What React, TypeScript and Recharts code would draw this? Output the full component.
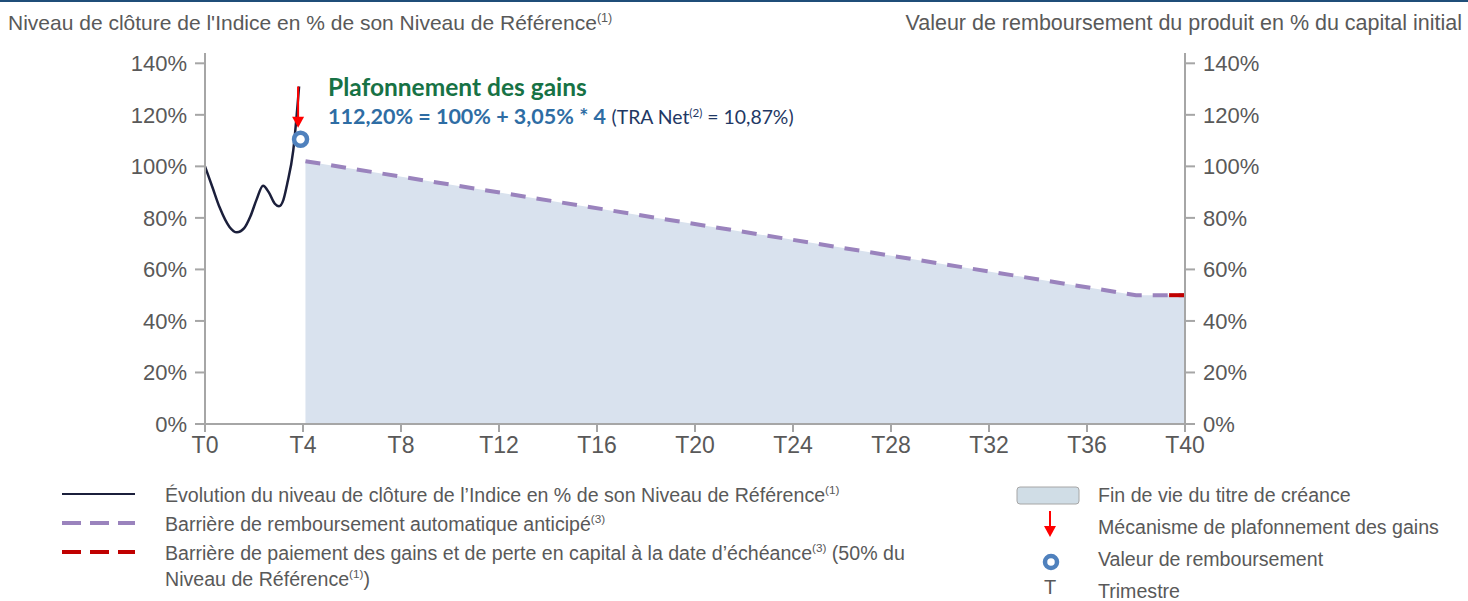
import React from "react";
import {
  ComposedChart,
  Line,
  Area,
  XAxis,
  YAxis,
  ReferenceLine,
  ReferenceDot,
} from "recharts";

// index path (quarters, % of reference level)
const indexT = [0, 0.3, 0.6, 1.0, 1.3, 1.6, 1.85, 2.1, 2.37, 2.6, 2.85, 3.02, 3.2, 3.35, 3.6, 3.84];
const indexLevel = [100, 92, 84, 76.5, 74.4, 76, 80.5, 87, 92.5, 90, 85.5, 84.5, 87, 93, 106, 131];

// autocall barrier + end of life area
const barrierT = [4.1, 38, 40];
const barrierLevel = [102, 50, 50];

// capital barrier at maturity
const capitalT = [39.35, 40];
const capitalLevel = [50, 50];

const xTicks = [0, 4, 8, 12, 16, 20, 24, 28, 32, 36, 40];
const yTicks = [0, 20, 40, 60, 80, 100, 120, 140];

// cap mechanism
const arrowT = 3.8;
const arrowFrom = 131;
const arrowTo = 115;
const redemptionT = 3.9;
const redemptionLevel = 110.5;

type Row = { t: number; index?: number; barrier?: number; capital?: number };

const buildRows = (): Row[] => {
  const m = new Map<number, Row>();
  const put = (t: number, key: "index" | "barrier" | "capital", v: number) => {
    const r = m.get(t) ?? { t };
    r[key] = v;
    m.set(t, r);
  };
  indexT.forEach((t, i) => put(t, "index", indexLevel[i]));
  barrierT.forEach((t, i) => put(t, "barrier", barrierLevel[i]));
  capitalT.forEach((t, i) => put(t, "capital", capitalLevel[i]));
  return Array.from(m.values()).sort((a, b) => a.t - b.t);
};

const rows = buildRows();

const AXIS = "#a6a6a6";
const TXT = "#595959";
const FONT = "'Liberation Sans', Arial, sans-serif";
const yTickStyle = { fill: TXT, fontSize: 22, fontFamily: FONT };
const xTickStyle = { fill: TXT, fontSize: 23, fontFamily: FONT };

const Ring = (p: any) => (
  <circle cx={p.cx} cy={p.cy} r={6.5} fill="#fff" stroke="#4f81bd" strokeWidth={4.5} />
);

const ArrowHead = (p: any) => (
  <path d={`M${p.cx - 6},${p.cy - 11} L${p.cx + 6},${p.cy - 11} L${p.cx},${p.cy} Z`} fill="#ff0000" />
);

const sup = { fontSize: "0.6em", verticalAlign: "super" as const, lineHeight: 0 };

const App = () => {
  return (
    <div style={{ position: "fixed", left: 0, top: 0, width: 1468, height: 601, background: "#fff", overflow: "hidden" }}>
      <div style={{ position: "absolute", left: 0, top: 0, width: 1468, height: 2, background: "#1f4e79" }} />
      <div style={{ position: "absolute", left: 8, top: 11, fontFamily: FONT, fontSize: 21, color: TXT, whiteSpace: "nowrap" }}>
        Niveau de clôture de l'Indice en % de son Niveau de Référence<span style={sup}>(1)</span>
      </div>
      <div style={{ position: "absolute", right: 6, top: 11, fontFamily: FONT, fontSize: 21.5, color: TXT, whiteSpace: "nowrap" }}>
        Valeur de remboursement du produit en % du capital initial
      </div>

      <div style={{ position: "absolute", left: 0, top: 0 }}>
        <ComposedChart width={1468} height={470} data={rows} margin={{ top: 53, right: 203, bottom: 6, left: 125 }}>
          <XAxis
            dataKey="t"
            type="number"
            domain={[0, 40]}
            ticks={xTicks}
            tickFormatter={(v) => `T${v}`}
            interval={0}
            height={40}
            tickSize={8}
            tickMargin={5}
            stroke={AXIS}
            strokeWidth={2}
            tick={xTickStyle}
          />
          <YAxis
            yAxisId="l"
            domain={[0, 144]}
            ticks={yTicks}
            tickFormatter={(v) => `${v}%`}
            width={80}
            tickSize={10}
            tickMargin={8}
            stroke={AXIS}
            strokeWidth={2}
            tick={yTickStyle}
            interval={0}
          />
          <YAxis
            yAxisId="r"
            orientation="right"
            domain={[0, 144]}
            ticks={yTicks}
            tickFormatter={(v) => `${v}%`}
            width={80}
            tickSize={10}
            tickMargin={8}
            stroke={AXIS}
            strokeWidth={2}
            tick={yTickStyle}
            interval={0}
          />
          <Area
            yAxisId="l"
            dataKey="barrier"
            type="linear"
            fill="#d9e2ee"
            fillOpacity={1}
            stroke="none"
            connectNulls
            isAnimationActive={false}
          />
          <Line
            yAxisId="r"
            dataKey="barrier"
            type="linear"
            stroke="none"
            dot={false}
            connectNulls
            isAnimationActive={false}
          />
          <Line
            yAxisId="l"
            dataKey="barrier"
            type="linear"
            stroke="#9a83bd"
            strokeWidth={4}
            strokeDasharray="15 11"
            dot={false}
            connectNulls
            isAnimationActive={false}
          />
          <Line
            yAxisId="l"
            dataKey="capital"
            type="linear"
            stroke="#c00000"
            strokeWidth={4}
            dot={false}
            isAnimationActive={false}
          />
          <Line
            yAxisId="l"
            dataKey="index"
            type="monotone"
            stroke="#1b1f3b"
            strokeWidth={2.5}
            dot={false}
            isAnimationActive={false}
          />
          <ReferenceLine
            yAxisId="l"
            segment={[{ x: arrowT, y: arrowFrom }, { x: arrowT, y: arrowTo + 3 }]}
            stroke="#ff0000"
            strokeWidth={2}
          />
          <ReferenceDot yAxisId="l" x={arrowT} y={arrowTo} shape={ArrowHead} />
          <ReferenceDot yAxisId="l" x={redemptionT} y={redemptionLevel} shape={Ring} />
        </ComposedChart>
      </div>

      <div style={{ position: "absolute", left: 328, top: 72, fontFamily: "Lato, sans-serif", fontWeight: 700, fontSize: 24.5, color: "#177245", whiteSpace: "nowrap" }}>
        Plafonnement des gains
      </div>
      <div style={{ position: "absolute", left: 328, top: 103, fontFamily: "Lato, sans-serif", fontSize: 21.5, color: "#2e6da4", whiteSpace: "nowrap" }}>
        <b>112,20% = 100% + 3,05% * 4</b>{" "}
        <span style={{ fontSize: 19.4, color: "#1f3864" }}>
          (TRA Net<span style={sup}>(2)</span> = 10,87%)
        </span>
      </div>

      {/* legend left */}
      <svg style={{ position: "absolute", left: 0, top: 480 }} width={160} height={90}>
        <line x1={62} y1={14} x2={135} y2={14} stroke="#1b1f3b" strokeWidth={2} />
        <line x1={62} y1={43} x2={135} y2={43} stroke="#9a83bd" strokeWidth={4} strokeDasharray="19 9" />
        <line x1={62} y1={72} x2={135} y2={72} stroke="#c00000" strokeWidth={4} strokeDasharray="19 9" />
      </svg>
      <div style={{ position: "absolute", left: 165, top: 481, fontFamily: FONT, fontSize: 19.6, color: TXT, lineHeight: "29px", whiteSpace: "nowrap" }}>
        <div>Évolution du niveau de clôture de l’Indice en % de son Niveau de Référence<span style={sup}>(1)</span></div>
        <div>Barrière de remboursement automatique anticipé<span style={sup}>(3)</span></div>
        <div style={{ lineHeight: "26px", marginTop: 1 }}>
          Barrière de paiement des gains et de perte en capital à la date d’échéance<span style={sup}>(3)</span> (50% du
          <br />
          Niveau de Référence<span style={sup}>(1)</span>)
        </div>
      </div>

      {/* legend right */}
      <svg style={{ position: "absolute", left: 1010, top: 480 }} width={80} height={100}>
        <rect x={7} y={7} width={62} height={17} rx={3} fill="#d0dde6" stroke="#a6a6a6" strokeWidth={1} />
        <line x1={40} y1={31} x2={40} y2={50} stroke="#ff0000" strokeWidth={2} />
        <path d="M34,46 L46,46 L40,57 Z" fill="#ff0000" />
        <circle cx={41} cy={82} r={6} fill="#fff" stroke="#4f81bd" strokeWidth={4.5} />
      </svg>
      <div style={{ position: "absolute", left: 1040, top: 575, width: 20, textAlign: "center", fontFamily: FONT, fontSize: 20, lineHeight: "24px", color: TXT }}>
        T
      </div>
      <div style={{ position: "absolute", left: 1098, top: 479, fontFamily: FONT, fontSize: 19.6, color: TXT, lineHeight: "32px", whiteSpace: "nowrap" }}>
        <div>Fin de vie du titre de créance</div>
        <div>Mécanisme de plafonnement des gains</div>
        <div>Valeur de remboursement</div>
        <div>Trimestre</div>
      </div>
    </div>
  );
};

export default App;
